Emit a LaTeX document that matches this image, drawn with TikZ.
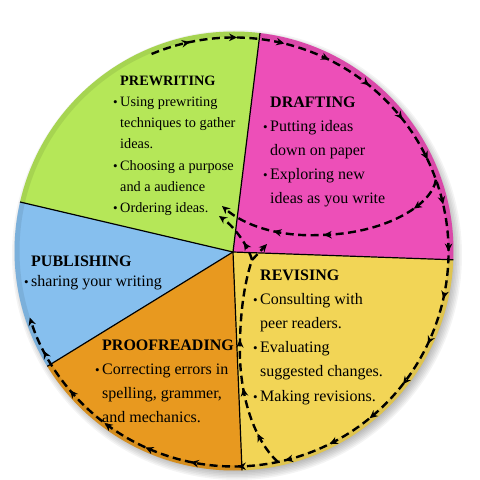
\documentclass[tikz,border=0pt]{standalone}
\usepackage{fontspec}
\setmainfont{Liberation Serif}
\usetikzlibrary{arrows.meta,decorations.markings,calc}
\definecolor{cgreen}{RGB}{181,231,88}
\definecolor{cpink}{RGB}{237,79,184}
\definecolor{cblue}{RGB}{134,191,238}
\definecolor{corange}{RGB}{232,153,31}
\definecolor{cyellow}{RGB}{242,213,86}
\newcommand{\itembul}{\llap{\fontsize{13}{13}\selectfont\textbullet\hspace{2.6pt}}}
\begin{document}
\begin{tikzpicture}[x=1pt,y=-1pt,
  sliceline/.style={line width=1.2pt, draw=black},
  flow/.style={line width=2.4pt, dash pattern=on 8pt off 4.5pt, draw=black},
  tip/.style={-{Stealth[length=8pt,width=7.5pt]}},
  block/.style={anchor=base west, inner sep=0pt, align=left, text=black},
  smallfont/.style={font=\fontsize{14.3}{21.3}\selectfont},
  bigfont/.style={font=\fontsize{16}{24.2}\selectfont},
  pubfont/.style={font=\fontsize{16}{20}\selectfont}
]
\useasboundingbox (0,0) rectangle (480,480);
\coordinate (O) at (234,251);
\coordinate (P) at (233,252);
\coordinate (Oa) at (234,252);
% shadow
\foreach \r in {213,214.5,...,226}
  \fill[black, opacity=0.045] (237,255) circle[radius=\r];
% slices
\fill[cpink]   (P) -- ($(O)+(-83.2:219.5)$) arc[start angle=-83.2, end angle=2.3, radius=219.5] -- cycle;
\fill[cyellow] (P) -- ($(O)+(2.3:219.5)$) arc[start angle=2.3, end angle=87.9, radius=219.5] -- cycle;
\fill[corange] (P) -- ($(O)+(87.9:219.5)$) arc[start angle=87.9, end angle=148.3, radius=219.5] -- cycle;
\fill[cblue]   (P) -- ($(O)+(148.3:219.5)$) arc[start angle=148.3, end angle=192.9, radius=219.5] -- cycle;
\fill[cgreen]  (P) -- ($(O)+(192.9:219.5)$) arc[start angle=192.9, end angle=276.8, radius=219.5] -- cycle;
% rim
\draw[black, opacity=0.08, line width=5pt] (O) circle[radius=217];
% slice boundaries
\coordinate (eTop) at ($(O)+(-83.2:219.5)$);
\coordinate (eRight) at ($(O)+(2.3:219.5)$);
\coordinate (eBottom) at ($(O)+(87.9:219.5)$);
\coordinate (eLL) at ($(O)+(148.3:219.5)$);
\coordinate (eUL) at ($(O)+(192.9:219.5)$);
\foreach \e in {eTop,eRight,eBottom,eLL,eUL}
  \draw[sliceline] (P) -- (\e);
% flow paths
\coordinate (A0) at ($(Oa)+(247.4:214.5)$);
\coordinate (B0) at ($(Oa)+(340.3:214.5)$);
\coordinate (C0) at ($(Oa)+(78.2:214.5)$);
\coordinate (B1) at (320,235);
\coordinate (B2) at (222,206);
\coordinate (C1) at (240,340);
\coordinate (Cs) at (252,260);
\coordinate (C2) at (219,216);
\coordinate (C3) at (267,244);
\draw[flow, tip, postaction={decorate}, decoration={markings,
   mark=between positions 0.039 and 0.975 step 0.0463 with {\arrow{Stealth[length=8pt,width=7.5pt]}}}]
  (A0) arc[start angle=247.4, end angle=522.2, radius=214.5];
\draw[flow, tip, postaction={decorate}, decoration={markings,
   mark=at position 0.155 with {\arrow{Stealth[length=8pt,width=7.5pt]}},
   mark=at position 0.55 with {\arrow{Stealth[length=8pt,width=7.5pt]}},
   mark=at position 0.76 with {\arrow{Stealth[length=8pt,width=7.5pt]}}}]
  (B0) .. controls (432,205) and (385,234) .. (B1) .. controls (280,237) and (245,226) .. (B2);
\draw[flow, postaction={decorate}, decoration={markings,
   mark=at position 0.165 with {\arrow{Stealth[length=8pt,width=7.5pt]}},
   mark=at position 0.39 with {\arrow{Stealth[length=8pt,width=7.5pt]}},
   mark=at position 0.62 with {\arrow{Stealth[length=8pt,width=7.5pt]}}}]
  (C0) .. controls (252,438) and (238,390) .. (C1) .. controls (241,300) and (247,275) .. (Cs);
\draw[flow, tip, postaction={decorate}, decoration={markings,
   mark=at position 0.35 with {\arrow{Stealth[length=8pt,width=7.5pt]}}}]
  (Cs) .. controls (249,248) and (236,228) .. (C2);
\draw[flow, tip] (Cs) -- (C3);
% texts (anchored at the baseline of the last line)
\node[block, smallfont] (prew) at (120,212.8) {\textbf{PREWRITING}\\\itembul Using prewriting\\techniques to gather\\ideas.\\\itembul Choosing a purpose\\and a audience\\\itembul Ordering ideas.};
\node[block, bigfont] (draft) at (270,203.8) {\textbf{DRAFTING}\\\itembul Putting ideas\\down on paper\\\itembul Exploring new\\ideas as you write};
\node[block, bigfont] (revis) at (260,401) {\textbf{REVISING}\\\itembul Consulting with\\peer readers.\\\itembul Evaluating\\suggested changes.\\\itembul Making revisions.};
\node[block, bigfont] (proof) at (102,422.6) {\textbf{PROOFREADING}\\\itembul Correcting errors in\\spelling, grammer,\\and mechanics.};
\node[block, pubfont] (publ) at (31,286) {\textbf{PUBLISHING}\\\itembul sharing your writing};
\end{tikzpicture}
\end{document}
